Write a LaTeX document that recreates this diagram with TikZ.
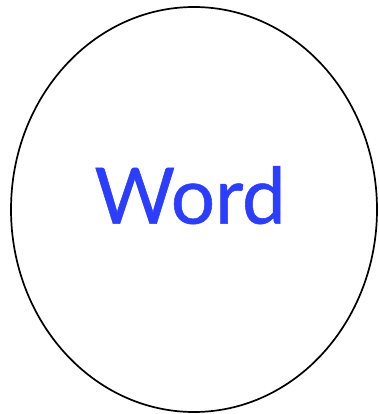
\documentclass[tikz,border=0pt]{standalone}
\usepackage{fontspec}
\newfontfamily\wordfont[FakeBold=0.7]{Lato}
\usetikzlibrary{shapes.geometric}
\definecolor{wordblue}{RGB}{43,61,255}
\tikzset{
  outline/.style={draw=black, line width=1.7pt, ellipse, minimum width=366pt, minimum height=405pt, inner sep=0pt},
  label/.style={text=wordblue, font=\wordfont\fontsize{78}{80}\selectfont, inner sep=0pt}
}
\begin{document}
\begin{tikzpicture}[x=1pt,y=-1pt]
\useasboundingbox (0,0) rectangle (378,414);
\node[outline] (circ) at (194,209.5) {};
\node[label, anchor=base] (word) at (190,223.7) {Word};
\end{tikzpicture}
\end{document}
